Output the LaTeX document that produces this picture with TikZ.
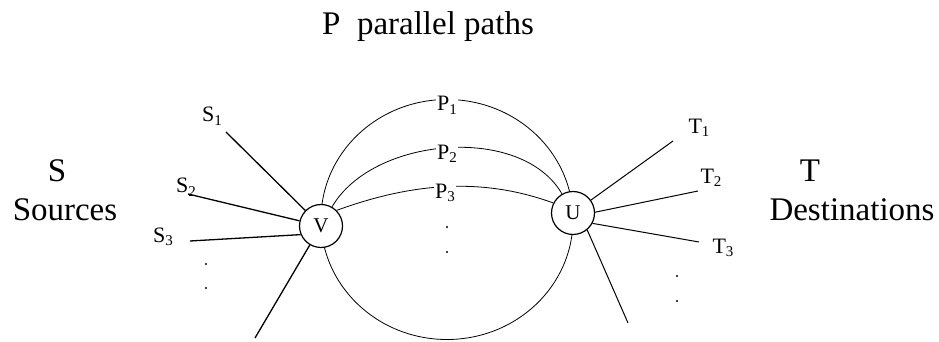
\documentclass[tikz,border=0pt]{standalone}
\usepackage{fontspec}
\setmainfont{Liberation Serif}
\usetikzlibrary{positioning}
\usetikzlibrary{calc}

\newcommand{\lbl}[2]{#1\raisebox{-0.35ex}{\fontsize{15}{17}\selectfont #2}}

\begin{document}
\begin{tikzpicture}[x=1pt, y=1pt,
  every node/.style={font=\fontsize{22}{26}\selectfont, inner sep=1pt},
  hub/.style={circle, draw, fill=white, line width=1.2pt, minimum size=43pt, inner sep=0pt, font=\fontsize{21}{24}\selectfont},
  plabel/.style={fill=white, inner sep=1.5pt, yshift=-6pt},
  big/.style={font=\fontsize{33}{38}\selectfont, anchor=base},
  leaf/.style={line width=1.3pt},
  path/.style={line width=0.8pt}]

        \useasboundingbox (0,0) rectangle (939,342);

        \node[big] (title) at (428,307) {P\ \ parallel paths};

        \node[big] (S) at (57,160) {S};
        \node[big] (sources) at (65,121) {Sources};
        \node[big] (T) at (810,160) {T};
        \node[big] (dest) at (852,121) {Destinations};

        % the outer path P1 runs round both ends
        \coordinate (ring) at (447,122.5);
        \draw[path] (ring) ellipse [x radius=126, y radius=120];

        \node[hub] (V) at (321,116) {V};
        \node[hub] (U) at (573,129) {U};

        % free ends of the source and destination lines
        \coordinate (s1) at (226,210);
        \coordinate (s2) at (188,148);
        \coordinate (s3) at (190,101);
        \coordinate (sb) at (255,4);
        \coordinate (t1) at (673,201);
        \coordinate (t2) at (698,151);
        \coordinate (t3) at (699,100);
        \coordinate (tb) at (628,19);

        \node (S1) at (212,226) {\lbl{S}{1}};
        \node (S2) at (186,155) {\lbl{S}{2}};
        \node (S3) at (163,105) {\lbl{S}{3}};
        \node (T1) at (699,214) {\lbl{T}{1}};
        \node (T2) at (711,164) {\lbl{T}{2}};
        \node (T3) at (723,94) {\lbl{T}{3}};

        \draw[leaf] (V) -- (s1);
        \draw[leaf] (V) -- (s2);
        \draw[leaf] (V.203) -- (s3);
        \draw[leaf] (V) -- (sb);

        \draw[path, line width=1pt] (U) -- (t1);
        \draw[path, line width=1pt] (U.2) -- (t2);
        \draw[path, line width=1pt] (U.-28) -- (t3);
        \draw[path, line width=1pt] (U.-50) -- (tb);

        % the parallel paths
        \node[plabel] (P1) at ($(ring)+(0,120)$) {\lbl{P}{1}};
        \draw[path] (V) to[out=60, in=120, looseness=0.9] node[plabel] (P2) {\lbl{P}{2}} (U);
        \draw[path] (V.45) to[out=20, in=160, looseness=0.92] node[plabel] (P3) {\lbl{P}{3}} (U.153);

        \foreach \x/\y in {206/78, 206/54, 447/115, 447/90, 677/66, 677/41} {
          \fill (\x,\y) circle (1.1pt);
        }

      \end{tikzpicture}
\end{document}
